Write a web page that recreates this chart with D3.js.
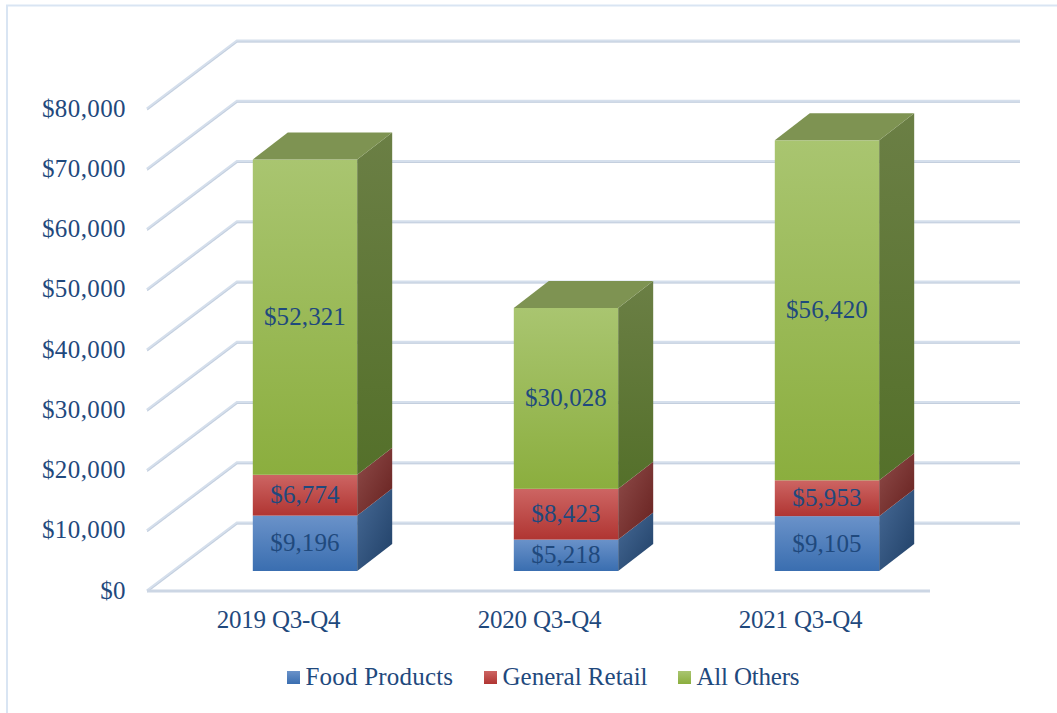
<!DOCTYPE html>
<html><head><meta charset="utf-8">
<script src="https://cdn.jsdelivr.net/npm/d3@7/dist/d3.min.js"></script>
<style>html,body{margin:0;padding:0;background:#fff}svg{display:block}text{font-family:"Liberation Serif",serif;fill:#1f497d;font-size:25px}</style>
</head><body><div id="c"></div>
<script>
const categories=["2019 Q3-Q4","2020 Q3-Q4","2021 Q3-Q4"];
const seriesNames=["Food Products","General Retail","All Others"];
const foodProducts=[9196,5218,9105];
const generalRetail=[6774,8423,5953];
const allOthers=[52321,30028,56420];
const yTicks=[0,10000,20000,30000,40000,50000,60000,70000,80000];
const W=1057,H=713,dx=35,dy=27;
const svg=d3.select("#c").append("svg").attr("width",W).attr("height",H);
const defs=svg.append("defs");
const pal=[{k:"b",t:"#6a92c9",b:"#3a6eb0",s1:"#476a96",s2:"#1f3f66"},
           {k:"r",t:"#cd6563",b:"#b03532",s1:"#8f4c4a",s2:"#66201e"},
           {k:"g",t:"#a9c570",b:"#8bae3e",s1:"#6b7f45",s2:"#54702a"}];
pal.forEach(p=>{
 const g=defs.append("linearGradient").attr("id","f"+p.k).attr("x1",0).attr("y1",0).attr("x2",0).attr("y2",1);
 g.append("stop").attr("offset",0).attr("stop-color",p.t);g.append("stop").attr("offset",1).attr("stop-color",p.b);
 const s=defs.append("linearGradient").attr("id","s"+p.k).attr("x1",0).attr("y1",0).attr("x2",p.k==="g"?0:1).attr("y2",1);
 s.append("stop").attr("offset",0).attr("stop-color",p.s1);s.append("stop").attr("offset",1).attr("stop-color",p.s2);
});
const yFront=d3.scaleLinear().domain([0,80000]).range([591,109]);
const yBack=d3.scaleLinear().domain([0,80000]).range([523,41]);
const yBar=d3.scaleLinear().domain([0,80000]).range([571,89]);
const x=d3.scaleBand().domain(categories).range([147,930]).paddingInner(0.6).paddingOuter(0.3);
const xBar=d3.scaleBand().domain(categories).range([174.5,957.5]).paddingInner(0.6).paddingOuter(0.3);
// frame
svg.append("path").attr("d",`M7,${H}V5.5H${W}`).attr("fill","none").attr("stroke","#d9e5f3").attr("stroke-width",2);
// gridlines
const gridPath=t=>`M147,${yFront(t)}L237,${yBack(t)}H1020`;
const grid=svg.append("g").attr("fill","none");
yTicks.forEach(t=>{
 grid.append("path").attr("d",gridPath(t)).attr("stroke","#d5dfec").attr("stroke-width",3);
 grid.append("path").attr("d",gridPath(t)).attr("transform","translate(0,1)").attr("stroke","#bcc8d8").attr("stroke-width",1).attr("opacity",.7);
});
svg.append("path").attr("d",`M147,${yFront(0)}H930`).attr("fill","none").attr("stroke","#ccd6e4").attr("stroke-width",3);
svg.append("g").selectAll("text").data(yTicks).join("text").attr("x",126).attr("y",d=>yFront(d)+7.5).attr("text-anchor","end")
 .style("letter-spacing","0.4px").text(d=>d3.format("$,")(d));
// bars
const series=[foodProducts,generalRetail,allOthers];
categories.forEach((c,i)=>{
 const bx=xBar(c),bw=xBar.bandwidth();
 let cum=0;
 const g=svg.append("g");
 series.forEach((vals,j)=>{
  const y0=yBar(cum),y1=yBar(cum+vals[i]);cum+=vals[i];
  g.append("rect").attr("x",bx).attr("y",y1).attr("width",bw).attr("height",y0-y1).attr("fill",`url(#f${pal[j].k})`);
  g.append("path").attr("d",`M${bx+bw},${y0}L${bx+bw+dx},${y0-dy}V${y1-dy}L${bx+bw},${y1}Z`).attr("fill",`url(#s${pal[j].k})`);
  if(j===2){
   g.append("path").attr("d",`M${bx},${y1}L${bx+dx},${y1-dy}H${bx+bw+dx}L${bx+bw},${y1}Z`).attr("fill","#7e9352");
  }
  g.append("text").attr("x",bx+bw/2).attr("y",(y0+y1)/2+8).attr("text-anchor","middle").style("letter-spacing","0.1px")
   .text(d3.format("$,")(vals[i]));
 });
 svg.append("text").attr("x",x(c)+x.bandwidth()/2+1).attr("y",628).attr("text-anchor","middle").style("letter-spacing","-0.2px").text(c);
});
// legend
const legendX=[287,484,678];
const legendSpacing=[0.2,0,-0.2];
seriesNames.forEach((n,i)=>{
 svg.append("rect").attr("x",legendX[i]).attr("y",671).attr("width",13).attr("height",13).attr("fill",`url(#f${pal[i].k})`);
 svg.append("text").attr("x",legendX[i]+18.5).attr("y",685).style("letter-spacing",legendSpacing[i]+"px").text(n);
});
</script></body></html>
